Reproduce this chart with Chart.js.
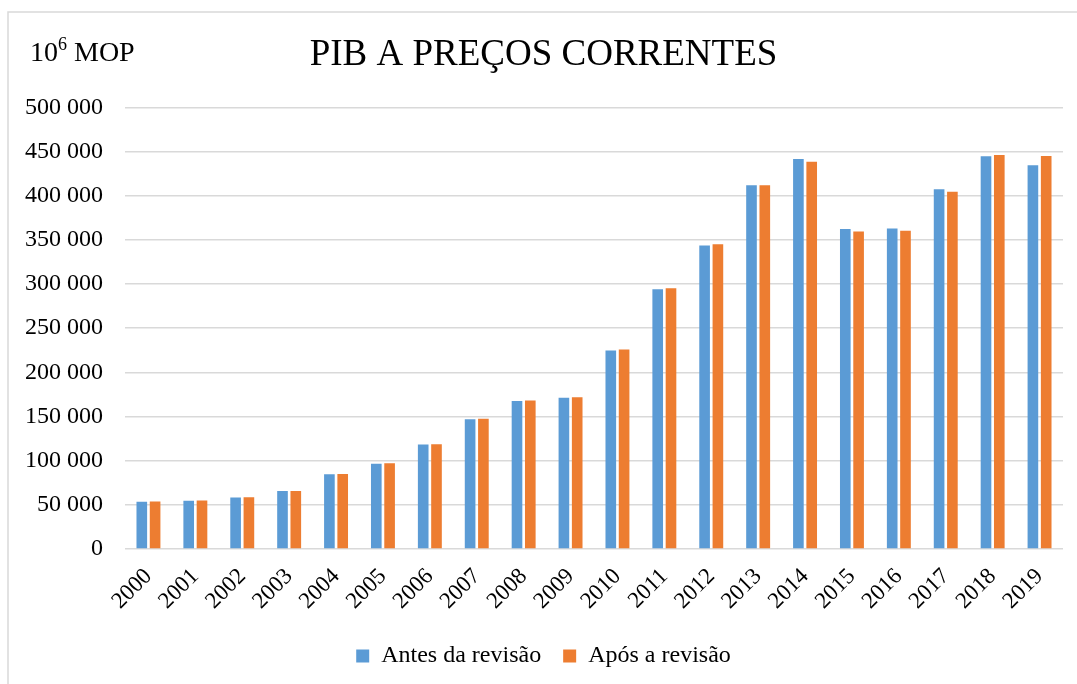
<!DOCTYPE html>
<html>
<head>
<meta charset="utf-8">
<script src="https://cdn.jsdelivr.net/npm/chart.js@4.4.1/dist/chart.umd.min.js"></script>
<style>
  html, body { margin: 0; padding: 0; background: #fff; }
  #wrap { width: 1077px; height: 684px; position: relative; }
</style>
</head>
<body>
<div id="wrap"><canvas id="viz" width="1077" height="684"></canvas></div>
<script>
// Chart data (10^6 MOP)
const years = ['2000', '2001', '2002', '2003', '2004', '2005', '2006', '2007', '2008', '2009',
               '2010', '2011', '2012', '2013', '2014', '2015', '2016', '2017', '2018', '2019'];
const antesRevisao = [53400, 54500, 58400, 65600, 84500, 96600, 118200, 147000, 167500, 171200,
                      224700, 294000, 343600, 411800, 441700, 362200, 363000, 407300, 444800, 434500];
const aposRevisao = [53700, 54800, 58700, 65800, 84800, 97100, 118700, 147500, 168000, 171700,
                     225800, 295100, 345100, 411800, 438600, 359500, 360300, 404600, 446200, 445100];
const yTicks = [0, 50000, 100000, 150000, 200000, 250000, 300000, 350000, 400000, 450000, 500000];

const chartTitle = 'PIB A PREÇOS CORRENTES';
const seriesNames = ['Antes da revisão', 'Após a revisão'];

const FONT = "'Liberation Serif', 'Times New Roman', serif";

// thousands with a space, like "450 000"
function fmt(v) {
  if (v === 0) return '0';
  return (v / 1000) + ' 000';
}

// frame + the "10^6 MOP" unit label
const decorPlugin = {
  id: 'decor',
  beforeDraw(chart) {
    const c = chart.ctx;
    c.save();
    c.strokeStyle = '#d9d9d9';
    c.lineWidth = 1.5;
    c.beginPath();
    c.moveTo(8, 700);
    c.lineTo(8, 12);
    c.lineTo(1100, 12);
    c.stroke();
    c.restore();
  },
  afterDraw(chart) {
    const c = chart.ctx;
    c.save();
    c.fillStyle = '#000';
    c.textBaseline = 'alphabetic';
    let x = 30, y = 61;
    c.font = '28px ' + FONT;
    c.fillText('10', x, y);
    x += c.measureText('10').width;
    c.font = '18px ' + FONT;
    c.fillText('6', x, y - 11);
    x += c.measureText('6').width;
    c.font = '28px ' + FONT;
    c.fillText(' MOP', x, y);
    c.restore();
  }
};

const ctx = document.getElementById('viz');

const chart = new Chart(ctx, {
  type: 'bar',
  data: {
    labels: years,
    datasets: [{
      label: seriesNames[0],
      data: antesRevisao,
      backgroundColor: '#5b9bd5',
      borderWidth: 0,
      categoryPercentage: 0.567,
      barPercentage: 0.8
    }, {
      label: seriesNames[1],
      data: aposRevisao,
      backgroundColor: '#ed7d31',
      borderWidth: 0,
      categoryPercentage: 0.567,
      barPercentage: 0.8
    }]
  },
  options: {
    responsive: false,
    animation: false,
    layout: {
      padding: { top: 0, left: 24, right: 14, bottom: 6 }
    },
    plugins: {
      title: {
        display: true,
        text: chartTitle,
        color: '#000',
        font: { family: FONT, size: 37, weight: 'normal' },
        padding: { top: 33, bottom: 30 }
      },
      legend: {
        position: 'bottom',
        labels: {
          color: '#000',
          font: { family: FONT, size: 24 },
          boxWidth: 13,
          boxHeight: 13,
          padding: 22
        }
      },
      tooltip: { enabled: false }
    },
    scales: {
      x: {
        grid: { display: false, drawTicks: false },
        border: { display: false },
        ticks: {
          color: '#000',
          font: { family: FONT, size: 23 },
          maxRotation: 45,
          minRotation: 45,
          padding: 14,
          autoSkip: false
        },
        afterFit(scale) { scale.height = 73; }
      },
      y: {
        min: 0,
        max: 500000,
        afterBuildTicks(scale) {
          scale.ticks = yTicks.map(v => ({ value: v }));
        },
        grid: { color: '#d9d9d9', lineWidth: 1.5, drawTicks: false },
        border: { display: false },
        ticks: {
          color: '#000',
          font: { family: FONT, size: 24 },
          padding: 22,
          callback: v => fmt(v)
        },
        afterFit(scale) { scale.width = 101; }
      }
    }
  },
  plugins: [decorPlugin]
});
</script>
</body>
</html>
